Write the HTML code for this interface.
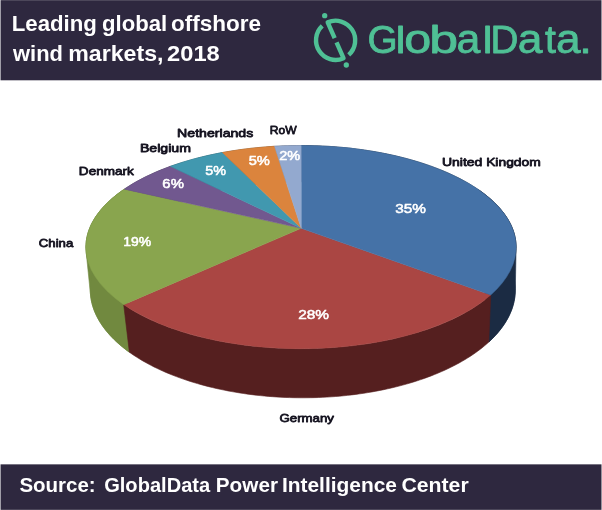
<!DOCTYPE html>
<html><head><meta charset="utf-8"><title>Leading global offshore wind markets, 2018</title>
<style>html,body{margin:0;padding:0;background:#fff}svg{display:block;font-family:"Liberation Sans",sans-serif}</style></head>
<body><svg width="602" height="510" viewBox="0 0 602 510">
<rect width="602" height="510" fill="#fff"/>
<rect x="0.55" y="0.15" width="600.95" height="80.15" fill="#2e283f"/>
<rect x="0.55" y="464.35" width="600.95" height="45.5" fill="#2e283f"/>
<text y="30.70" font-size="22.00" font-weight="bold" fill="#fff"><tspan x="11.71" textLength="85.17" lengthAdjust="spacingAndGlyphs">Leading</tspan> <tspan x="101.99" textLength="65.18" lengthAdjust="spacingAndGlyphs">global</tspan> <tspan x="171.02" textLength="90.05" lengthAdjust="spacingAndGlyphs">offshore</tspan></text>
<text y="60.50" font-size="22.00" font-weight="bold" fill="#fff"><tspan x="13.06" textLength="49.88" lengthAdjust="spacingAndGlyphs">wind</tspan> <tspan x="68.27" textLength="95.17" lengthAdjust="spacingAndGlyphs">markets,</tspan> <tspan x="167.08" textLength="52.65" lengthAdjust="spacingAndGlyphs">2018</tspan></text>
<text y="492.00" font-size="20.00" font-weight="bold" fill="#fff"><tspan x="19.41" textLength="76.26" lengthAdjust="spacingAndGlyphs">Source:</tspan> <tspan x="104.18" textLength="106.00" lengthAdjust="spacingAndGlyphs">GlobalData</tspan> <tspan x="215.81" textLength="62.20" lengthAdjust="spacingAndGlyphs">Power</tspan> <tspan x="281.90" textLength="115.11" lengthAdjust="spacingAndGlyphs">Intelligence</tspan> <tspan x="401.43" textLength="67.29" lengthAdjust="spacingAndGlyphs">Center</tspan></text>
<g fill="none" stroke="#4fc095" stroke-width="4.4" stroke-linejoin="round"><path d="M334.67 38.20 L327.69 22.37 A19.60 19.60 0 0 1 348.71 54.87"/><path d="M322.23 25.97 A19.60 19.60 0 0 0 343.51 58.23 L336.53 42.40"/></g><circle cx="324.7" cy="15.7" r="2.65" fill="#4fc095"/><circle cx="346.3" cy="65" r="2.65" fill="#4fc095"/><text y="52.5" font-size="39.0" fill="#4fc095" stroke="#4fc095" stroke-width="0.80" stroke-linejoin="round"><tspan x="367.45" font-size="39.0" textLength="30.14" lengthAdjust="spacingAndGlyphs">G</tspan><tspan x="395.69" font-size="37.2" textLength="9.61" lengthAdjust="spacingAndGlyphs">l</tspan><tspan x="404.16" font-size="41.0" textLength="26.97" lengthAdjust="spacingAndGlyphs">o</tspan><tspan x="429.16" font-size="39.0" textLength="28.82" lengthAdjust="spacingAndGlyphs">b</tspan><tspan x="456.48" font-size="41.0" textLength="23.82" lengthAdjust="spacingAndGlyphs">a</tspan><tspan x="482.79" font-size="37.2" textLength="9.61" lengthAdjust="spacingAndGlyphs">l</tspan><tspan x="490.53" font-size="39.0" textLength="27.92" lengthAdjust="spacingAndGlyphs">D</tspan><tspan x="517.71" font-size="41.0" textLength="24.69" lengthAdjust="spacingAndGlyphs">a</tspan><tspan x="545.11" font-size="39.0" textLength="10.88" lengthAdjust="spacingAndGlyphs">t</tspan><tspan x="556.12" font-size="41.0" textLength="24.58" lengthAdjust="spacingAndGlyphs">a</tspan><tspan x="579.38" font-size="39.0" textLength="12.55" lengthAdjust="spacingAndGlyphs">.</tspan></text>
<path d="M478.53 189.73 L480.17 190.88 L481.77 192.04 L483.35 193.21 L484.88 194.39 L486.39 195.58 L487.86 196.77 L489.29 197.98 L490.69 199.20 L492.06 200.42 L493.38 201.66 L494.68 202.90 L495.94 204.15 L497.16 205.41 L498.34 206.68 L499.49 207.95 L500.60 209.23 L501.67 210.52 L502.71 211.81 L503.71 213.12 L504.67 214.42 L505.60 215.74 L506.48 217.06 L507.33 218.38 L508.14 219.71 L508.91 221.05 L509.64 222.39 L510.34 223.74 L510.99 225.09 L511.61 226.44 L512.18 227.80 L512.72 229.16 L513.22 230.52 L513.68 231.89 L514.10 233.26 L514.47 234.63 L514.81 236.01 L515.11 237.39 L515.38 238.77 L515.60 240.15 L515.78 241.53 L515.92 242.91 L516.02 244.30 L516.08 245.68 L516.10 247.06 L516.08 248.45 L515.30 290.13 L515.27 291.60 L515.20 293.07 L515.10 294.54 L514.95 296.01 L514.76 297.48 L514.54 298.94 L514.27 300.41 L513.97 301.87 L513.63 303.33 L513.25 304.78 L512.82 306.24 L512.37 307.69 L511.87 309.13 L511.33 310.57 L510.76 312.01 L510.14 313.45 L509.49 314.87 L508.80 316.30 L508.08 317.72 L507.31 319.13 L506.51 320.54 L505.67 321.94 L504.80 323.33 L503.88 324.72 L502.93 326.10 L501.95 327.48 L500.92 328.85 L499.87 330.21 L498.77 331.56 L497.64 332.91 L496.47 334.24 L495.27 335.57 L494.04 336.89 L492.77 338.20 L491.46 339.50 L490.12 340.79 L488.75 342.08 L479.85 230.08Z" fill="#1b2b43" stroke="#1b2b43" stroke-width="0.6"/>
<path d="M85.90 247.20 L85.92 245.67 L85.99 244.15 L86.11 242.62 L86.28 241.10 L86.49 239.57 L86.75 238.05 L87.07 236.53 L87.43 235.02 L87.84 233.50 L88.29 231.99 L88.80 230.48 L89.35 228.98 L89.95 227.48 L90.60 225.98 L91.29 224.49 L92.04 223.01 L92.83 221.53 L93.66 220.05 L94.55 218.58 L95.48 217.12 L96.45 215.67 L97.48 214.22 L98.54 212.78 L99.66 211.35 L100.82 209.92 L102.02 208.51 L103.27 207.10 L104.57 205.70 L105.91 204.31 L107.29 202.93 L108.72 201.56 L110.19 200.20 L111.70 198.85 L113.26 197.51 L114.86 196.19 L116.50 194.87 L118.18 193.57 L119.90 192.28 L121.67 191.00 L123.47 189.73 L125.75 230.08 L129.36 352.20 L127.55 350.88 L125.78 349.55 L124.05 348.20 L122.36 346.84 L120.70 345.47 L119.09 344.08 L117.52 342.69 L115.99 341.28 L114.50 339.86 L113.06 338.42 L111.65 336.98 L110.29 335.53 L108.96 334.06 L107.69 332.59 L106.45 331.10 L105.26 329.61 L104.11 328.10 L103.01 326.59 L101.95 325.07 L100.93 323.54 L99.96 322.00 L99.04 320.46 L98.16 318.90 L97.33 317.34 L96.54 315.78 L95.80 314.21 L95.10 312.63 L94.45 311.04 L93.85 309.46 L93.29 307.86 L92.78 306.26 L92.32 304.66 L91.91 303.06 L91.54 301.45 L91.22 299.84 L90.95 298.22 L90.72 296.60 L90.54 294.98 L86.13 251.78 L86.00 250.25 L85.93 248.73Z" fill="#71893f" stroke="#71893f" stroke-width="0.6"/>
<path d="M274.52 146.27 L278.95 146.04 L283.39 145.84 L287.83 145.69 L292.29 145.58 L296.74 145.52 L301.20 145.50 L303.00 181.80 L298.52 181.82 L294.04 181.89 L289.57 182.01 L285.11 182.18 L280.65 182.39 L276.20 182.65Z" fill="#4b566a" stroke="#4b566a" stroke-width="0.6"/>
<path d="M222.42 152.52 L226.62 151.77 L230.85 151.06 L235.11 150.38 L239.40 149.76 L243.71 149.17 L248.05 148.63 L252.42 148.13 L256.80 147.67 L261.21 147.25 L265.63 146.88 L270.07 146.56 L274.52 146.27 L276.20 182.65 L271.73 182.96 L267.27 183.32 L262.83 183.73 L258.41 184.18 L254.01 184.69 L249.63 185.24 L245.28 185.83 L240.95 186.48 L236.65 187.17 L232.38 187.90 L228.14 188.68 L223.94 189.51Z" fill="#70441f" stroke="#70441f" stroke-width="0.6"/>
<path d="M170.39 166.37 L174.09 165.07 L177.84 163.80 L181.64 162.58 L185.50 161.39 L189.42 160.24 L193.38 159.13 L197.40 158.06 L201.46 157.03 L205.57 156.05 L209.72 155.10 L213.91 154.20 L218.15 153.34 L222.42 152.52 L223.94 189.51 L219.67 190.41 L215.43 191.35 L211.24 192.34 L207.09 193.38 L202.98 194.46 L198.93 195.58 L194.92 196.75 L190.97 197.97 L187.07 199.22 L183.22 200.52 L179.43 201.86 L175.71 203.25 L172.04 204.67Z" fill="#224e5a" stroke="#224e5a" stroke-width="0.6"/>
<path d="M124.33 189.14 L126.92 187.42 L129.57 185.73 L132.31 184.06 L135.11 182.42 L137.99 180.81 L140.94 179.23 L143.95 177.67 L147.03 176.15 L150.18 174.66 L153.40 173.20 L156.68 171.76 L160.02 170.37 L163.42 169.00 L166.88 167.67 L170.39 166.37 L172.04 204.67 L168.54 206.09 L165.11 207.54 L161.74 209.03 L158.43 210.55 L155.19 212.11 L152.01 213.70 L148.90 215.33 L145.86 216.99 L142.89 218.68 L139.99 220.40 L137.16 222.15 L134.40 223.93 L131.72 225.74 L129.12 227.57 L126.59 229.44Z" fill="#3a2d4a" stroke="#3a2d4a" stroke-width="0.6"/>
<path d="M301.20 145.50 L305.50 145.52 L309.80 145.59 L314.10 145.69 L318.39 145.83 L322.67 146.02 L326.95 146.24 L331.21 146.51 L335.47 146.81 L339.71 147.16 L343.93 147.54 L348.14 147.97 L352.33 148.43 L356.49 148.94 L360.64 149.48 L364.76 150.07 L368.86 150.69 L372.93 151.35 L376.97 152.05 L380.98 152.78 L384.95 153.56 L388.90 154.37 L392.81 155.22 L396.68 156.10 L400.51 157.03 L404.31 157.98 L408.06 158.98 L411.77 160.01 L415.43 161.07 L419.05 162.17 L422.63 163.30 L426.15 164.47 L429.62 165.67 L433.05 166.90 L436.42 168.16 L439.73 169.46 L442.99 170.78 L446.19 172.14 L449.34 173.53 L452.43 174.94 L455.45 176.39 L458.41 177.86 L461.31 179.36 L464.15 180.89 L466.92 182.44 L469.63 184.02 L472.26 185.63 L474.83 187.26 L477.33 188.91 L479.76 190.59 L482.12 192.29 L484.40 194.01 L486.61 195.76 L488.75 197.52 L490.81 199.30 L492.80 201.11 L494.71 202.93 L496.54 204.77 L498.29 206.62 L499.97 208.49 L501.56 210.38 L503.07 212.28 L504.51 214.20 L505.86 216.13 L507.13 218.07 L508.32 220.02 L509.42 221.99 L510.45 223.96 L511.38 225.94 L512.24 227.93 L513.01 229.93 L513.69 231.94 L514.29 233.95 L514.81 235.97 L515.23 237.99 L515.58 240.02 L515.83 242.05 L516.00 244.08 L516.09 246.11 L516.09 248.14 L516.00 250.17 L515.83 252.20 L515.57 254.23 L515.22 256.26 L514.79 258.28 L514.28 260.30 L513.68 262.31 L512.99 264.31 L512.22 266.31 L511.36 268.30 L510.42 270.29 L509.40 272.26 L508.29 274.23 L507.10 276.18 L505.83 278.12 L504.48 280.05 L503.04 281.96 L501.52 283.87 L499.93 285.75 L498.25 287.62 L496.49 289.48 L494.66 291.32 L492.75 293.14 L490.76 294.94 L488.75 342.08 L490.75 340.19 L492.68 338.29 L494.54 336.36 L496.32 334.41 L498.03 332.45 L499.66 330.47 L501.21 328.47 L502.68 326.46 L504.08 324.43 L505.39 322.39 L506.63 320.33 L507.79 318.27 L508.86 316.19 L509.85 314.09 L510.77 311.99 L511.60 309.88 L512.34 307.76 L513.00 305.63 L513.58 303.49 L514.08 301.35 L514.49 299.21 L514.82 297.05 L515.06 294.90 L515.22 292.74 L515.29 290.58 L515.28 288.42 L515.19 286.26 L515.00 284.10 L514.74 281.94 L514.38 279.78 L513.95 277.63 L513.42 275.48 L512.82 273.34 L512.13 271.20 L511.35 269.07 L510.49 266.95 L509.54 264.83 L508.51 262.73 L507.40 260.63 L506.21 258.55 L504.93 256.47 L503.57 254.41 L502.13 252.37 L500.61 250.34 L499.00 248.32 L497.32 246.32 L495.56 244.34 L493.71 242.37 L491.79 240.43 L489.80 238.50 L487.72 236.59 L485.57 234.71 L483.35 232.85 L481.05 231.00 L478.68 229.19 L476.23 227.39 L473.72 225.63 L471.13 223.88 L468.47 222.17 L465.75 220.48 L462.96 218.82 L460.10 217.19 L457.18 215.58 L454.19 214.01 L451.14 212.47 L448.03 210.96 L444.86 209.48 L441.63 208.03 L438.34 206.62 L434.99 205.24 L431.59 203.90 L428.14 202.59 L424.64 201.31 L421.08 200.08 L417.47 198.88 L413.82 197.71 L410.12 196.59 L406.38 195.50 L402.59 194.45 L398.76 193.44 L394.89 192.47 L390.98 191.54 L387.03 190.65 L383.05 189.80 L379.04 188.99 L374.99 188.22 L370.92 187.50 L366.81 186.82 L362.68 186.18 L358.52 185.58 L354.34 185.03 L350.14 184.51 L345.92 184.05 L341.68 183.62 L337.42 183.24 L333.15 182.91 L328.87 182.62 L324.57 182.37 L320.27 182.17 L315.96 182.01 L311.64 181.89 L307.32 181.82 L303.00 181.80Z" fill="#1b2b43" stroke="#1b2b43" stroke-width="0.6"/>
<path d="M123.71 304.63 L121.29 302.93 L118.95 301.21 L116.67 299.47 L114.48 297.70 L112.36 295.92 L110.31 294.11 L108.35 292.29 L106.46 290.45 L104.65 288.58 L102.92 286.71 L101.27 284.81 L99.70 282.91 L98.21 280.98 L96.81 279.05 L95.49 277.10 L94.25 275.13 L93.10 273.16 L92.03 271.18 L91.04 269.18 L90.14 267.18 L89.33 265.17 L88.60 263.15 L87.96 261.13 L87.40 259.10 L86.94 257.06 L86.55 255.02 L86.26 252.98 L86.05 250.93 L85.93 248.89 L85.90 246.84 L85.96 244.79 L86.10 242.75 L86.33 240.70 L86.64 238.66 L87.05 236.62 L87.54 234.59 L88.11 232.56 L88.78 230.54 L89.53 228.52 L90.36 226.51 L91.28 224.51 L92.29 222.52 L93.38 220.54 L94.56 218.57 L95.81 216.61 L97.16 214.66 L98.58 212.73 L100.09 210.81 L101.68 208.91 L103.35 207.02 L105.10 205.14 L106.93 203.29 L108.84 201.45 L110.82 199.63 L112.89 197.83 L115.03 196.05 L117.24 194.29 L119.53 192.55 L121.90 190.83 L124.33 189.14 L126.59 229.44 L124.21 231.27 L121.91 233.13 L119.68 235.01 L117.52 236.91 L115.45 238.84 L113.45 240.78 L111.53 242.74 L109.69 244.73 L107.93 246.73 L106.25 248.75 L104.65 250.78 L103.14 252.83 L101.70 254.89 L100.35 256.97 L99.09 259.06 L97.90 261.17 L96.81 263.28 L95.79 265.40 L94.86 267.54 L94.02 269.68 L93.26 271.83 L92.59 273.98 L92.01 276.14 L91.51 278.31 L91.09 280.48 L90.77 282.65 L90.53 284.83 L90.37 287.01 L90.30 289.18 L90.32 291.36 L90.43 293.54 L90.62 295.71 L90.90 297.88 L91.26 300.04 L91.71 302.21 L92.24 304.36 L92.86 306.51 L93.56 308.65 L94.35 310.78 L95.22 312.91 L96.18 315.02 L97.21 317.12 L98.33 319.21 L99.54 321.29 L100.82 323.36 L102.18 325.41 L103.63 327.44 L105.15 329.46 L106.75 331.47 L108.43 333.45 L110.19 335.42 L112.03 337.37 L113.94 339.30 L115.92 341.21 L117.98 343.10 L120.11 344.97 L122.32 346.81 L124.59 348.63 L126.94 350.43 L129.36 352.20Z" fill="#71893f" stroke="#71893f" stroke-width="0.6"/>
<path d="M490.76 294.94 L488.69 296.73 L486.54 298.50 L484.32 300.25 L482.02 301.98 L479.65 303.69 L477.20 305.37 L474.69 307.03 L472.11 308.67 L469.45 310.28 L466.73 311.87 L463.94 313.43 L461.09 314.96 L458.17 316.46 L455.19 317.94 L452.14 319.39 L449.04 320.81 L445.87 322.20 L442.65 323.56 L439.37 324.89 L436.03 326.19 L432.64 327.45 L429.20 328.68 L425.70 329.88 L422.16 331.05 L418.56 332.18 L414.92 333.28 L411.23 334.35 L407.50 335.37 L403.72 336.37 L399.90 337.32 L396.05 338.24 L392.15 339.13 L388.22 339.97 L384.25 340.78 L380.25 341.55 L376.21 342.29 L372.15 342.98 L368.06 343.64 L363.94 344.25 L359.79 344.83 L355.62 345.37 L351.43 345.87 L347.22 346.33 L342.99 346.75 L338.75 347.12 L334.48 347.46 L330.21 347.76 L325.92 348.02 L321.62 348.23 L317.32 348.41 L313.01 348.54 L308.69 348.64 L304.37 348.69 L300.05 348.70 L295.73 348.67 L291.41 348.60 L287.09 348.49 L282.78 348.33 L278.48 348.14 L274.19 347.91 L269.90 347.63 L265.63 347.32 L261.38 346.96 L257.14 346.57 L252.92 346.13 L248.72 345.65 L244.53 345.14 L240.38 344.58 L236.24 343.99 L232.13 343.35 L228.05 342.68 L224.00 341.97 L219.98 341.22 L216.00 340.43 L212.04 339.60 L208.13 338.74 L204.25 337.84 L200.41 336.91 L196.61 335.93 L192.85 334.92 L189.14 333.88 L185.47 332.80 L181.85 331.69 L178.27 330.54 L174.75 329.36 L171.28 328.14 L167.86 326.90 L164.49 325.62 L161.18 324.31 L157.92 322.96 L154.72 321.59 L151.58 320.19 L148.50 318.75 L145.49 317.29 L142.53 315.80 L139.64 314.29 L136.82 312.74 L134.06 311.17 L131.37 309.57 L128.75 307.95 L126.19 306.30 L123.71 304.63 L129.36 352.20 L131.83 353.94 L134.38 355.65 L136.99 357.34 L139.66 359.01 L142.40 360.64 L145.20 362.24 L148.06 363.82 L150.98 365.37 L153.97 366.89 L157.00 368.37 L160.10 369.83 L163.25 371.25 L166.46 372.64 L169.72 374.00 L173.03 375.32 L176.39 376.61 L179.80 377.87 L183.26 379.09 L186.76 380.28 L190.31 381.43 L193.90 382.54 L197.53 383.62 L201.21 384.66 L204.92 385.66 L208.67 386.63 L212.46 387.55 L216.28 388.44 L220.14 389.29 L224.02 390.10 L227.94 390.88 L231.89 391.61 L235.86 392.30 L239.86 392.95 L243.89 393.57 L247.93 394.14 L252.00 394.67 L256.09 395.16 L260.19 395.61 L264.31 396.01 L268.45 396.38 L272.60 396.70 L276.76 396.99 L280.93 397.23 L285.11 397.43 L289.29 397.58 L293.48 397.70 L297.68 397.77 L301.87 397.80 L306.07 397.79 L310.27 397.73 L314.46 397.64 L318.65 397.50 L322.83 397.32 L327.00 397.10 L331.17 396.83 L335.32 396.53 L339.47 396.18 L343.59 395.79 L347.71 395.36 L351.80 394.89 L355.88 394.38 L359.93 393.82 L363.97 393.23 L367.98 392.59 L371.96 391.92 L375.92 391.20 L379.85 390.45 L383.75 389.66 L387.62 388.82 L391.46 387.95 L395.26 387.04 L399.03 386.09 L402.76 385.10 L406.45 384.08 L410.10 383.02 L413.71 381.92 L417.28 380.79 L420.81 379.62 L424.28 378.41 L427.71 377.17 L431.10 375.90 L434.43 374.59 L437.71 373.24 L440.94 371.87 L444.12 370.46 L447.24 369.02 L450.30 367.54 L453.31 366.04 L456.26 364.51 L459.15 362.94 L461.97 361.35 L464.74 359.73 L467.44 358.08 L470.08 356.40 L472.65 354.70 L475.16 352.97 L477.60 351.21 L479.97 349.43 L482.27 347.63 L484.50 345.80 L486.66 343.95 L488.75 342.08Z" fill="#551f1f" stroke="#551f1f" stroke-width="0.6"/>
<path d="M301.20 228.30 L490.76 294.94 A215.10 101.60 0 0 1 123.71 304.63 Z" fill="#aa4643" stroke="#aa4643" stroke-width="0.5" stroke-linejoin="round"/>
<path d="M301.20 228.30 L301.20 145.50 A215.10 101.60 0 0 1 490.76 294.94 Z" fill="#4572a7" stroke="#4572a7" stroke-width="0.5" stroke-linejoin="round"/>
<path d="M301.20 228.30 L123.71 304.63 A215.10 101.60 0 0 1 124.33 189.14 Z" fill="#89a54e" stroke="#89a54e" stroke-width="0.5" stroke-linejoin="round"/>
<path d="M301.20 228.30 L124.33 189.14 A215.10 101.60 0 0 1 170.39 166.37 Z" fill="#71588f" stroke="#71588f" stroke-width="0.5" stroke-linejoin="round"/>
<path d="M301.20 228.30 L170.39 166.37 A215.10 101.60 0 0 1 222.42 152.52 Z" fill="#4198af" stroke="#4198af" stroke-width="0.5" stroke-linejoin="round"/>
<path d="M301.20 228.30 L222.42 152.52 A215.10 101.60 0 0 1 274.52 146.27 Z" fill="#db843d" stroke="#db843d" stroke-width="0.5" stroke-linejoin="round"/>
<path d="M301.20 228.30 L274.52 146.27 A215.10 101.60 0 0 1 301.20 145.50 Z" fill="#93a9cf" stroke="#93a9cf" stroke-width="0.5" stroke-linejoin="round"/>
<text x="177.14" y="136.90" font-size="11.80" fill="#14121f" textLength="76.17" lengthAdjust="spacingAndGlyphs" stroke="#14121f" stroke-width="0.80" stroke-linejoin="round">Netherlands</text>
<text x="269.71" y="133.90" font-size="11.80" fill="#14121f" textLength="26.83" lengthAdjust="spacingAndGlyphs" stroke="#14121f" stroke-width="0.80" stroke-linejoin="round">RoW</text>
<text x="139.94" y="151.50" font-size="11.80" fill="#14121f" textLength="50.99" lengthAdjust="spacingAndGlyphs" stroke="#14121f" stroke-width="0.80" stroke-linejoin="round">Belgium</text>
<text x="78.89" y="175.20" font-size="11.80" fill="#14121f" textLength="54.89" lengthAdjust="spacingAndGlyphs" stroke="#14121f" stroke-width="0.80" stroke-linejoin="round">Denmark</text>
<text x="38.83" y="246.70" font-size="11.80" fill="#14121f" textLength="34.47" lengthAdjust="spacingAndGlyphs" stroke="#14121f" stroke-width="0.80" stroke-linejoin="round">China</text>
<text y="166.00" font-size="11.80" fill="#14121f" stroke="#14121f" stroke-width="0.80" stroke-linejoin="round"><tspan x="441.92" textLength="40.48" lengthAdjust="spacingAndGlyphs">United</tspan> <tspan x="486.17" textLength="54.54" lengthAdjust="spacingAndGlyphs">Kingdom</tspan></text>
<text x="279.43" y="422.00" font-size="11.80" fill="#14121f" textLength="54.59" lengthAdjust="spacingAndGlyphs" stroke="#14121f" stroke-width="0.80" stroke-linejoin="round">Germany</text>
<text x="248.65" y="165.00" font-size="13.70" fill="#fff" textLength="21.24" lengthAdjust="spacingAndGlyphs" stroke="#fff" stroke-width="0.55" stroke-linejoin="round">5%</text>
<text x="205.26" y="175.00" font-size="13.70" fill="#fff" textLength="20.81" lengthAdjust="spacingAndGlyphs" stroke="#fff" stroke-width="0.55" stroke-linejoin="round">5%</text>
<text x="279.21" y="159.90" font-size="13.70" fill="#fff" textLength="20.97" lengthAdjust="spacingAndGlyphs" stroke="#fff" stroke-width="0.55" stroke-linejoin="round">2%</text>
<text x="162.38" y="188.10" font-size="13.70" fill="#fff" textLength="21.51" lengthAdjust="spacingAndGlyphs" stroke="#fff" stroke-width="0.55" stroke-linejoin="round">6%</text>
<text x="123.27" y="246.10" font-size="13.70" fill="#fff" textLength="27.99" lengthAdjust="spacingAndGlyphs" stroke="#fff" stroke-width="0.55" stroke-linejoin="round">19%</text>
<text x="395.15" y="213.30" font-size="13.70" fill="#fff" textLength="30.76" lengthAdjust="spacingAndGlyphs" stroke="#fff" stroke-width="0.55" stroke-linejoin="round">35%</text>
<text x="298.16" y="318.90" font-size="13.70" fill="#fff" textLength="30.85" lengthAdjust="spacingAndGlyphs" stroke="#fff" stroke-width="0.55" stroke-linejoin="round">28%</text>
</svg></body></html>
